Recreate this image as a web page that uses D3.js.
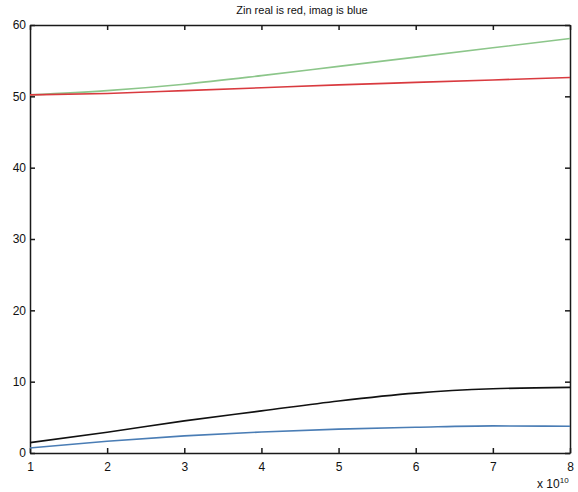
<!DOCTYPE html>
<html>
<head>
<meta charset="utf-8">
<script src="https://cdn.jsdelivr.net/npm/d3@7"></script>
<style>
  body { margin: 0; background: #fff; }
  svg { font-family: "Liberation Sans", Arial, sans-serif; }
</style>
</head>
<body>
<svg id="chart" width="578" height="492"></svg>
<script>
// frequences (x 10^10)
var freq = [1, 2, 3, 4, 5, 6, 7, 8];
// courbes
var green = [50.2, 50.8, 51.7, 52.9, 54.2, 55.5, 56.8, 58.1];
var red   = [50.2, 50.4, 50.8, 51.2, 51.6, 51.95, 52.3, 52.65];
var black = [1.45, 2.9, 4.5, 5.9, 7.3, 8.4, 9.0, 9.2];
var blue  = [0.7, 1.65, 2.4, 2.95, 3.35, 3.6, 3.8, 3.75];
var xTicks = [1, 2, 3, 4, 5, 6, 7, 8];
var yTicks = [0, 10, 20, 30, 40, 50, 60];

var margin = {top: 25, right: 8, bottom: 39, left: 30},
    width = 578 - margin.left - margin.right,
    height = 492 - margin.top - margin.bottom;

var svg = d3.select("#chart");
var g = svg.append("g").attr("transform", `translate(${margin.left},${margin.top})`);

var xScale = d3.scaleLinear().domain([1, 8]).range([0, width]);
var yScale = d3.scaleLinear().domain([0, 60]).range([height, 0]);

// axes avec graduations vers l'intérieur
g.append("g").attr("transform", `translate(0,${height})`)
  .call(d3.axisBottom(xScale).tickValues(xTicks).tickSizeInner(-5).tickSizeOuter(0).tickPadding(9).tickFormat(d3.format("d")));
g.append("g").attr("transform", "translate(0,0)")
  .call(d3.axisTop(xScale).tickValues(xTicks).tickSizeInner(-5).tickSizeOuter(0).tickFormat(""));
g.append("g")
  .call(d3.axisLeft(yScale).tickValues(yTicks).tickSizeInner(-5).tickSizeOuter(0).tickPadding(4));
g.append("g").attr("transform", `translate(${width},0)`)
  .call(d3.axisRight(yScale).tickValues(yTicks).tickSizeInner(-5).tickSizeOuter(0).tickFormat(""));

g.selectAll(".domain").attr("stroke", "#1a1a1a").attr("stroke-width", 1.5);
g.selectAll(".tick line").attr("stroke", "#1a1a1a").attr("stroke-width", 1.5);
g.selectAll(".tick text").attr("font-size", 12).attr("fill", "#111")
  .attr("font-family", "Liberation Sans, Arial, sans-serif");

var line = d3.line()
  .x(function(d, i) { return xScale(freq[i]); })
  .y(function(d) { return yScale(d); })
  .curve(d3.curveMonotoneX);

var series = [
  {values: green, color: "#8cc68a"},
  {values: red, color: "#d93a3f"},
  {values: black, color: "#111111"},
  {values: blue, color: "#4a7db5"}
];

g.selectAll(".serie")
  .data(series)
  .enter()
  .append("path")
  .attr("class", "serie")
  .attr("fill", "none")
  .attr("stroke", function(d) { return d.color; })
  .attr("stroke-width", 1.6)
  .attr("d", function(d) { return line(d.values); });

// titre
svg.append("text")
  .attr("x", margin.left + width / 2 + 2)
  .attr("y", 14)
  .attr("text-anchor", "middle")
  .attr("font-size", 11)
  .attr("fill", "#111")
  .text("Zin real is red, imag is blue");

// facteur d'échelle de l'axe x
var mult = svg.append("text")
  .attr("x", 537)
  .attr("y", 488)
  .attr("font-size", 12)
  .attr("fill", "#111");
mult.append("tspan").text("x 10");
mult.append("tspan").attr("dy", -5).attr("font-size", 8).text("10");
</script>
</body>
</html>
